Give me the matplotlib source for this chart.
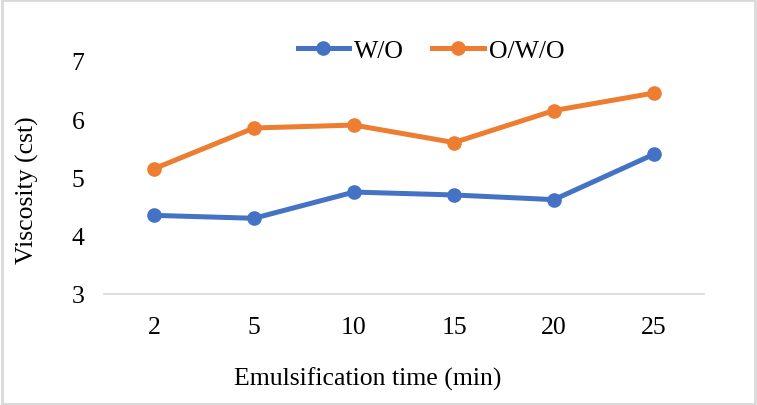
import matplotlib.pyplot as plt
from matplotlib.patches import Rectangle

times = ["2", "5", "10", "15", "20", "25"]
w_o = [4.35, 4.30, 4.75, 4.70, 4.62, 5.40]
o_w_o = [5.15, 5.85, 5.90, 5.60, 6.15, 6.45]

plt.rcParams["font.family"] = ["Liberation Serif", "DejaVu Serif"]

fig = plt.figure(figsize=(7.57, 4.06), dpi=100)
ax = fig.add_axes([0.1374, 0.2734, 0.7926, 0.5739])

x = range(len(times))
ax.plot(x, w_o, color="#4472C4", lw=3.6, marker="o", ms=9.5, label="W/O")
ax.plot(x, o_w_o, color="#ED7D31", lw=3.6, marker="o", ms=9.5, label="O/W/O")

ax.set_xlim(-0.5, len(times) - 0.5)
ax.set_ylim(3, 7)
ax.set_yticks([3, 4, 5, 6, 7])
ax.set_xticks(list(x))
ax.set_xticklabels(times)
ax.tick_params(length=0, labelsize=18.5, pad=16)
ax.tick_params(axis="y", pad=14)

for s in ["top", "right", "left"]:
    ax.spines[s].set_visible(False)
ax.spines["bottom"].set_color("#d9d9d9")
ax.spines["bottom"].set_linewidth(1.2)

ax.set_xlabel("Emulsification time (min)", fontsize=18.5)
ax.set_ylabel("Viscosity (cst)", fontsize=18.5)
ax.xaxis.set_label_coords(0.44, -0.31)
ax.yaxis.set_label_coords(-0.108, 0.45)

ax.legend(loc="center", bbox_to_anchor=(0.545, 1.045), ncol=2, frameon=False,
          fontsize=18.5, handlelength=2.0, handletextpad=0.2, columnspacing=1.1)

fig.patches.append(Rectangle((0.002, 0.003), 0.996, 0.994, transform=fig.transFigure,
                             fill=False, edgecolor="#d9d9d9", lw=2))

fig.savefig("out.png", dpi=100)
